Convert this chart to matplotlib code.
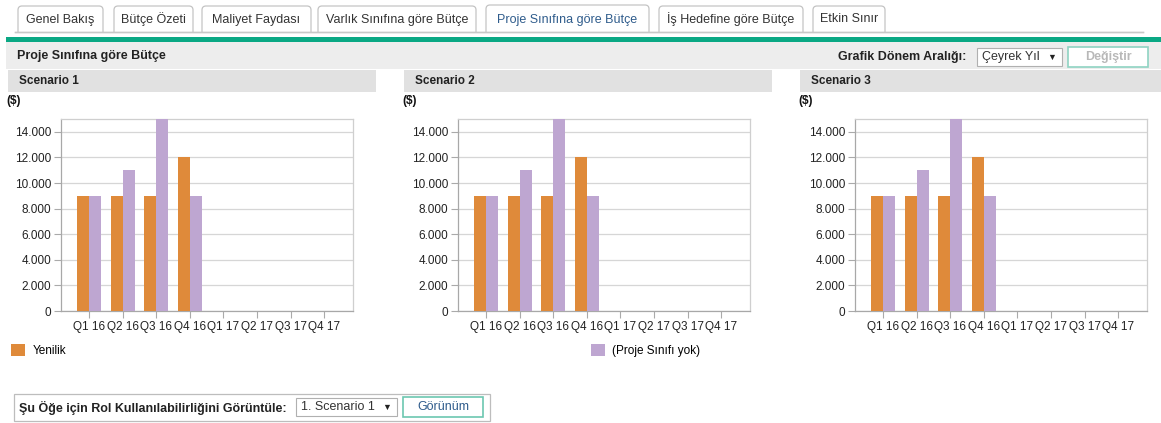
import matplotlib
matplotlib.use('Agg')
import matplotlib.pyplot as plt
from matplotlib.patches import Rectangle, FancyBboxPatch

# Data
quarters = ['Q1 16', 'Q2 16', 'Q3 16', 'Q4 16', 'Q1 17', 'Q2 17', 'Q3 17', 'Q4 17']
yenilik = [9000, 9000, 9000, 12000, 0, 0, 0, 0]
proje_sinifi_yok = [9000, 11000, 15000, 9000, 0, 0, 0, 0]
scenarios = ['Scenario 1', 'Scenario 2', 'Scenario 3']
yticks = [0, 2000, 4000, 6000, 8000, 10000, 12000, 14000]
ytick_labels = ['0', '2.000', '4.000', '6.000', '8.000', '10.000', '12.000', '14.000']
tabs = ['Genel Bakış', 'Bütçe Özeti', 'Maliyet Faydası', 'Varlık Sınıfına göre Bütçe',
        'Proje Sınıfına göre Bütçe', 'İş Hedefine göre Bütçe', 'Etkin Sınır']
active_tab = 4

W, H = 1161, 423
plt.rcParams['font.family'] = ['Liberation Sans', 'DejaVu Sans']

ORANGE = '#df8a3a'
PURPLE = '#bea6d1'
GREEN = '#0aa884'
TXT = '#333333'

fig = plt.figure(figsize=(W / 100, H / 100), dpi=100)
fig.patch.set_facecolor('white')

# background layer in pixel coordinates
bg = fig.add_axes([0, 0, 1, 1], zorder=0)
bg.set_xlim(0, W)
bg.set_ylim(H, 0)
bg.axis('off')


def box(x0, y0, x1, y1, fc='white', ec='none', lw=1.0, round_=0):
    if round_:
        p = FancyBboxPatch((x0, y0), x1 - x0, y1 - y0,
                           boxstyle=f'round,pad=0,rounding_size={round_}',
                           fc=fc, ec=ec, lw=lw)
    else:
        p = Rectangle((x0, y0), x1 - x0, y1 - y0, fc=fc, ec=ec, lw=lw)
    bg.add_patch(p)


# tabs
tab_x = [(18, 103), (114, 193), (202, 311), (318, 476), (486, 649), (659, 803), (813, 885)]
bg.plot([15, 1143], [32, 32], color='#c8c8c8', lw=1)
for i, (name, (x0, x1)) in enumerate(zip(tabs, tab_x)):
    top = 5 if i == active_tab else 6
    box(x0, top, x1, 38, fc='white', ec='#c4c4c4', lw=0.9, round_=4)
    if i == active_tab:
        box(x0 + 1, 30, x1 - 1, 36.5, fc='white')
    bg.text((x0 + x1) / 2, 19.5, name, ha='center', va='center', fontsize=9,
            color='#2f5c8c' if i == active_tab else TXT)
box(0, 31.6, W, 37, fc='white')
bg.plot([15, 1143], [32, 32], color='#c8c8c8', lw=1)
box(tab_x[active_tab][0] + 0.6, 30, tab_x[active_tab][1] - 0.6, 36.5, fc='white')

# green strip and header band
box(6, 37, W, 42, fc=GREEN)
box(6, 42, W, 69, fc='#ededed')
bg.text(17, 56, 'Proje Sınıfına göre Bütçe', ha='left', va='center', fontsize=9,
        fontweight='bold', color='#222222')
bg.text(966, 57, 'Grafik Dönem Aralığı:', ha='right', va='center', fontsize=9,
        fontweight='bold', color='#222222')
box(977, 48, 1062, 66, fc='white', ec='#b0b0b0', lw=0.8)
bg.text(982, 57, 'Çeyrek Yıl', ha='left', va='center', fontsize=9, color=TXT)
bg.text(1056, 57, '▼', ha='right', va='center', fontsize=6.5, color='#222222')
box(1068, 47, 1148, 67, fc='white', ec='#8fd3c2', lw=1.2)
bg.text(1108, 57, 'Değiştir', ha='center', va='center', fontsize=9,
        fontweight='bold', color='#b8b8b8')

# scenario panels
for i, name in enumerate(scenarios):
    bx0 = 8 + 396 * i
    bx1 = min(376 + 396 * i, W)
    box(bx0, 70, bx1, 92, fc='#e1e1e1')
    bg.text(bx0 + 11, 81.5, name, ha='left', va='center', fontsize=8.5,
            fontweight='bold', color='#222222')
    bg.text(bx0 - 2, 101, '($)', ha='left', va='center', fontsize=8.5,
            fontweight='bold', color='#111111')

    ax_l, ax_r = 61 + 397 * i, 353 + 397 * i
    ax_t, ax_b = 119, 311
    ax = fig.add_axes([ax_l / W, 1 - ax_b / H, (ax_r - ax_l) / W, (ax_b - ax_t) / H], zorder=2)
    x = list(range(len(quarters)))
    bw = 0.36
    b1 = ax.bar([v - bw / 2 for v in x], yenilik, width=bw, color=ORANGE, zorder=3,
                label='Yenilik')
    b2 = ax.bar([v + bw / 2 for v in x], proje_sinifi_yok, width=bw, color=PURPLE, zorder=3,
                label='(Proje Sınıfı yok)')
    ax.set_ylim(0, 15000)
    ax.set_xlim(-0.84, 7.86)
    ax.set_yticks(yticks)
    ax.set_yticklabels(ytick_labels)
    ax.set_xticks(x)
    ax.set_xticklabels(quarters)
    ax.grid(axis='y', color='#d6d6d6', lw=0.9, zorder=0)
    ax.set_axisbelow(True)
    for s in ax.spines.values():
        s.set_color('#cfcfcf')
        s.set_linewidth(0.9)
    ax.spines['bottom'].set_color('#a8a8a8')
    ax.spines['left'].set_color('#a8a8a8')
    ax.tick_params(axis='both', labelsize=8.5, colors='#aaaaaa', labelcolor='#222222',
                   length=5, width=0.8, pad=2)
    if i == 0:
        h_orange = b1
    if i == 1:
        h_purple = b2

# legends below the charts
fig.legend([h_orange], ['Yenilik'], loc='upper left',
           bbox_to_anchor=(11 / W, 1 - 344 / H), frameon=False, fontsize=8.5,
           handlelength=1.2, handleheight=1.2, handletextpad=0.6, borderpad=0,
           borderaxespad=0)
fig.legend([h_purple], ['(Proje Sınıfı yok)'], loc='upper left',
           bbox_to_anchor=(591 / W, 1 - 344 / H), frameon=False, fontsize=8.5,
           handlelength=1.2, handleheight=1.2, handletextpad=0.6, borderpad=0,
           borderaxespad=0)

# bottom selector
box(14, 394, 490, 421, fc='white', ec='#bdbdbd', lw=0.9)
bg.text(287, 407.5, 'Şu Öğe için Rol Kullanılabilirliğini Görüntüle:', ha='right',
        va='center', fontsize=9, fontweight='bold', color='#222222')
box(296, 398, 397, 416, fc='white', ec='#b0b0b0', lw=0.8)
bg.text(301, 407.5, '1. Scenario 1', ha='left', va='center', fontsize=9, color=TXT)
bg.text(391, 407.5, '▼', ha='right', va='center', fontsize=6.5, color='#222222')
box(403, 397, 483, 417, fc='white', ec='#6cc7b0', lw=1.2)
bg.text(443, 407.5, 'Görünüm', ha='center', va='center', fontsize=9, color='#2f5c8c')

fig.savefig('out.png', dpi=100)
